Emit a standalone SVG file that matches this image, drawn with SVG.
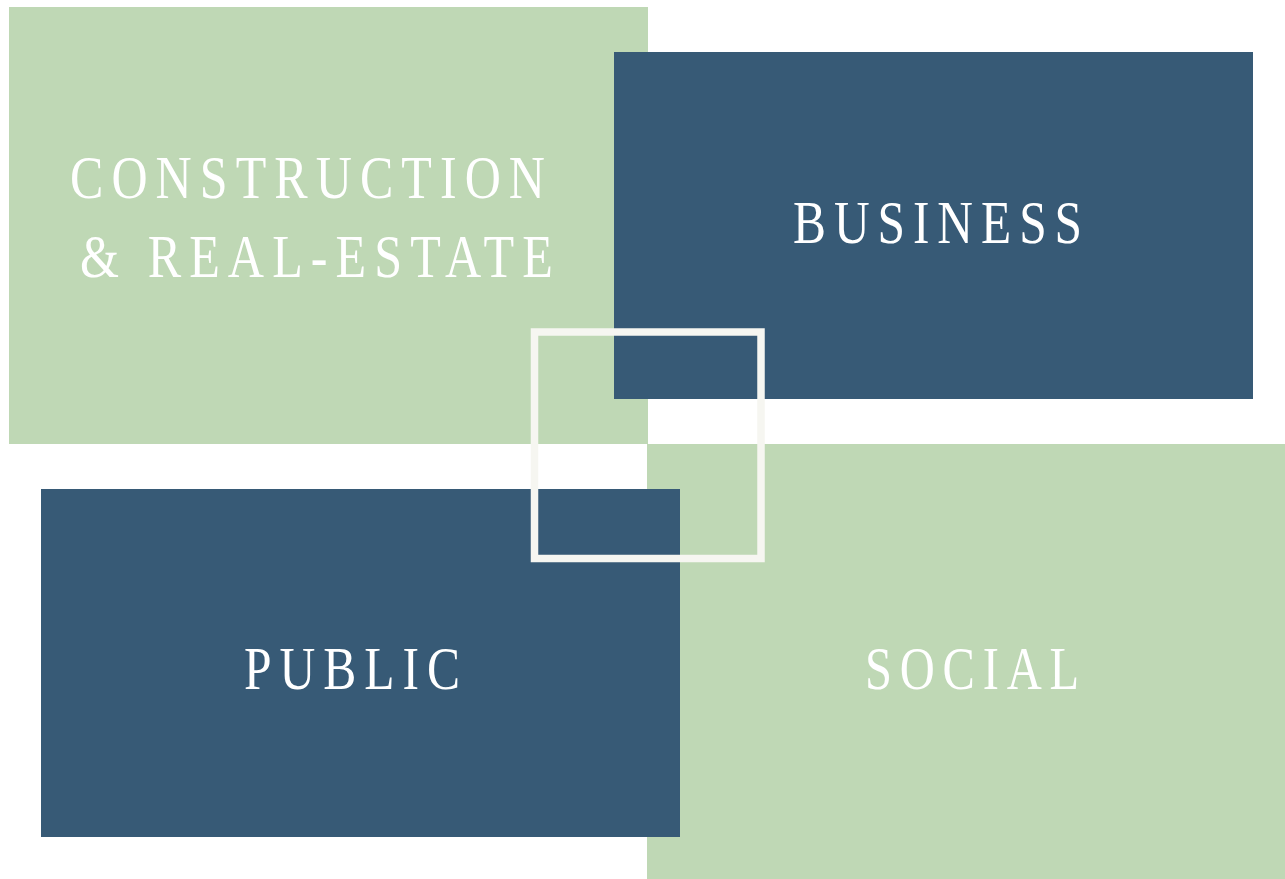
<svg xmlns="http://www.w3.org/2000/svg" width="1285" height="879" viewBox="0 0 1285 879">
  <style>
    .green { fill: #BFD8B5; }
    .blue { fill: #375A76; }
    .label { font-family: "Liberation Serif", "Times New Roman", serif; font-size: 62px; fill: #FFFFFF; letter-spacing: 10px; }
    .frame { fill: none; stroke: #F6F6F1; stroke-width: 7.5; }
  </style>
  <rect width="1285" height="879" fill="#FFFFFF"/>
  <g id="construction">
    <rect class="green" x="9" y="7" width="639" height="437"/>
  </g>
  <g id="business">
    <rect class="blue" x="614" y="52" width="639" height="347"/>
  </g>
  <g id="social">
    <rect class="green" x="647" y="444" width="638" height="435"/>
  </g>
  <g id="public">
    <rect class="blue" x="41" y="489" width="639" height="348"/>
  </g>
  <g id="center-frame">
    <rect class="frame" x="534.5" y="332" width="226.5" height="226.5"/>
  </g>
  <g id="labels">
    <text class="label" x="70" y="198" textLength="483" lengthAdjust="spacingAndGlyphs">CONSTRUCTION</text>
    <text class="label" x="80" y="277" textLength="481" lengthAdjust="spacingAndGlyphs">&amp; REAL-ESTATE</text>
    <text class="label" x="793" y="243" textLength="297" lengthAdjust="spacingAndGlyphs">BUSINESS</text>
    <text class="label" x="244" y="689" textLength="224" lengthAdjust="spacingAndGlyphs">PUBLIC</text>
    <text class="label" x="865" y="689" textLength="222" lengthAdjust="spacingAndGlyphs">SOCIAL</text>
  </g>
  <g id="connectors"/>
</svg>
